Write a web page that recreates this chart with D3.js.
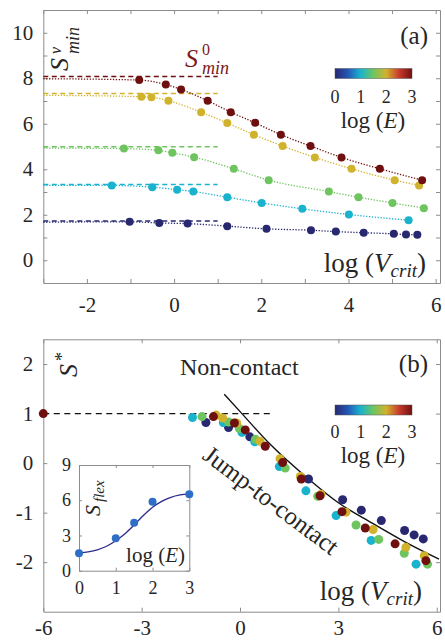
<!DOCTYPE html>
<meta charset="utf-8">
<script src="https://d3js.org/d3.v7.min.js"></script>
<style>
  body { margin: 0; background: #fff; }
  svg { display: block; }
  text { font-family: "Liberation Serif", "DejaVu Serif", serif; fill: #262626; }
</style>
<div id="my_dataviz"></div>
<script>
  // ---- panel (a) data : one array per log(E) series ----
  var seriesLogE = [0, 1, 1.5, 2, 3];
  var s0min = [1.73, 3.33, 4.99, 7.33, 8.08];      // dashed S0_min levels
  var fitStart = [1.67, 3.29, 4.93, 7.25, 7.98];   // dotted fit value at left edge

  var vNavy = [-1.02, -0.34, 0.31, 1.22, 2.12, 3.14, 3.71, 4.35, 5.04, 5.32, 5.58];
  var sNavy = [1.69, 1.64, 1.61, 1.50, 1.38, 1.32, 1.26, 1.21, 1.16, 1.13, 1.12];
  var vCyan = [-1.43, -0.50, 0.07, 0.44, 1.22, 2.01, 2.94, 4.01, 5.38];
  var sCyan = [3.29, 3.21, 3.10, 3.02, 2.77, 2.52, 2.26, 2.01, 1.76];
  var vGreen = [-1.15, -0.36, -0.04, 0.46, 1.37, 2.17, 3.55, 4.23, 5.01, 5.73];
  var sGreen = [4.91, 4.83, 4.72, 4.53, 4.02, 3.52, 3.02, 2.77, 2.52, 2.29];
  var vGold = [-0.75, -0.52, -0.13, 0.62, 1.22, 1.83, 2.49, 3.23, 4.07, 5.06, 5.62];
  var sGold = [7.19, 7.17, 7.01, 6.51, 6.03, 5.52, 5.02, 4.52, 4.02, 3.52, 3.29];
  var vRed = [-0.80, -0.19, 0.16, 0.77, 1.30, 1.86, 2.45, 3.13, 3.84, 4.72, 5.69];
  var sRed = [7.92, 7.72, 7.51, 7.01, 6.51, 6.04, 5.52, 5.02, 4.52, 4.02, 3.52];
  var vAll = [vNavy, vCyan, vGreen, vGold, vRed];
  var sAll = [sNavy, sCyan, sGreen, sGold, sRed];

  // ---- panel (b) data ----
  var bV = [-1.45, -1.16, -1.04, -0.81, -0.73, -0.53, -0.51, -0.35, -0.35, -0.17, -0.10, -0.02, 0.06, 0.16, 0.30,
    0.45, 0.47, 0.61, 0.77, 1.22, 1.30, 1.20, 1.38, 1.84, 1.87, 2.09, 2.01, 2.37, 2.47, 2.44, 3.13, 2.93, 3.11,
    3.23, 3.70, 3.54, 3.82, 4.06, 4.00, 4.23, 4.31, 4.73, 5.06, 5.01, 5.02, 5.31, 5.59, 5.62, 5.67, 5.37, 5.72, -6];
  var bS = [0.92, 0.94, 0.82, 0.94, 0.97, 0.91, 0.82, 0.83, 0.72, 0.81, 0.81, 0.70, 0.62, 0.67, 0.53,
    0.43, 0.48, 0.44, 0.34, 0.09, 0.01, -0.07, -0.10, -0.27, -0.32, -0.32, -0.56, -0.67, -0.63, -0.66, -0.74, -1.06, -0.98,
    -0.99, -0.95, -1.25, -1.31, -1.34, -1.56, -1.54, -1.16, -1.63, -1.70, -1.82, -1.36, -1.45, -1.53, -1.87, -1.97, -2.04, -2.04, 1];
  var bE = [1, 1.5, 0, 3, 2, 2, 1, 1.5, 0, 3, 2, 1.5, 1, 3, 0,
    1, 1.5, 2, 3, 2, 3, 1, 1.5, 2, 3, 0, 1, 1.5, 2, 3, 0, 1, 3,
    2, 0, 1.5, 3, 2, 1, 1.5, 0, 3, 2, 1.5, 0, 0, 0, 2, 3, 1, 1.5, 3];

  // jump-to-contact boundary
  var curveV = [-0.48, 0.03, 0.89, 2.09, 3.0, 4.0, 5.0, 6.07];
  var curveS = [1.39, 1.02, 0.40, -0.32, -0.80, -1.20, -1.58, -1.94];

  // inset
  var insetE = [0, 1, 1.5, 2, 3];
  var insetS = [1.48, 2.76, 4.09, 5.88, 6.51];
  var insetFitE = [0, 0.25, 0.5, 0.75, 1, 1.25, 1.5, 1.75, 2, 2.25, 2.5, 2.75, 3];
  var insetFitS = [1.5, 1.6, 1.78, 2.08, 2.55, 3.15, 3.9, 4.7, 5.4, 5.9, 6.25, 6.45, 6.55];

  var cbTicks = [0, 1, 2, 3];

  var svg = d3.select("#my_dataviz").append("svg")
    .attr("width", 445).attr("height", 641);

  // jet-like colour map
  var color = d3.scaleLinear()
    .domain([0, 0.5, 1, 1.5, 2, 2.5, 3])
    .range(["#27286f", "#2456b6", "#1ab3cd", "#6ec55f", "#d1b22c", "#c73a2d", "#6f1010"]);

  var defs = svg.append("defs");
  var grad = defs.append("linearGradient").attr("id", "jet");
  d3.range(0, 3.01, 0.25).forEach(function(v) {
    grad.append("stop").attr("offset", (v / 3 * 100) + "%").attr("stop-color", color(v));
  });

  var axisGray = "#8c8c8c";
  var plain = function(d) { return String(d); };
  var evens = function(d) { return d % 2 === 0 ? String(d) : ""; };

  function styleAxis(g, fs) {
    g.attr("font-family", "Liberation Serif, serif").attr("font-size", fs);
    g.select(".domain").attr("stroke", axisGray);
    g.selectAll(".tick line").attr("stroke", axisGray);
    g.selectAll(".tick text").attr("fill", "#262626");
  }

  function frame(x, y, xt, yt, xfmt, yfmt, fs, padB, padL, tl) {
    var y0 = y.range()[0], y1 = y.range()[1], x0 = x.range()[0], x1 = x.range()[1];
    svg.append("g").attr("transform", "translate(0," + y0 + ")")
      .call(d3.axisBottom(x).tickValues(xt).tickFormat(xfmt).tickSize(-tl).tickSizeOuter(0).tickPadding(padB))
      .call(styleAxis, fs);
    svg.append("g").attr("transform", "translate(0," + y1 + ")")
      .call(d3.axisTop(x).tickValues(xt).tickFormat("").tickSize(-tl).tickSizeOuter(0))
      .call(styleAxis, fs);
    svg.append("g").attr("transform", "translate(" + x0 + ",0)")
      .call(d3.axisLeft(y).tickValues(yt).tickFormat(yfmt).tickSize(-tl).tickSizeOuter(0).tickPadding(padL))
      .call(styleAxis, fs);
    svg.append("g").attr("transform", "translate(" + x1 + ",0)")
      .call(d3.axisRight(y).tickValues(yt).tickFormat("").tickSize(-tl).tickSizeOuter(0))
      .call(styleAxis, fs);
  }

  function colorbar(yTop, yLabel, yTitle) {
    var cx = d3.scaleLinear().domain([0, 3]).range([335, 412]);
    svg.append("rect").attr("x", 335).attr("y", yTop).attr("width", 77).attr("height", 10)
      .attr("fill", "url(#jet)").attr("stroke", "#555").attr("stroke-width", 0.5);
    svg.append("g").selectAll("text").data(cbTicks).enter().append("text")
      .attr("x", function(d) { return cx(d); }).attr("y", yLabel)
      .attr("text-anchor", "middle").attr("font-size", 18).text(function(d) { return d; });
    var t = svg.append("text").attr("x", 373).attr("y", yTitle).attr("text-anchor", "middle").attr("font-size", 23);
    t.append("tspan").text("log (");
    t.append("tspan").attr("font-style", "italic").text("E");
    t.append("tspan").text(")");
  }

  function vcritLabel(xEnd, yBase) {
    var t = svg.append("text").attr("x", xEnd).attr("y", yBase).attr("text-anchor", "end").attr("font-size", 27);
    t.append("tspan").text("log (");
    t.append("tspan").attr("font-style", "italic").text("V");
    t.append("tspan").attr("font-style", "italic").attr("font-size", 19).attr("dy", 5).text("crit");
    t.append("tspan").attr("dy", -5).text(")");
  }

  // ================= panel (a) =================
  var xa = d3.scaleLinear().domain([-3, 6.1]).range([43.3, 440]);
  var ya = d3.scaleLinear().domain([-1, 11]).range([283, 10]);
  frame(xa, ya, d3.range(-3, 7), d3.range(0, 11), evens, evens, 21, 14, 10, 4);

  var pa = svg.append("g");
  seriesLogE.forEach(function(e, i) {
    // S0_min reference
    pa.append("line")
      .attr("x1", xa(-3)).attr("x2", xa(1))
      .attr("y1", ya(s0min[i])).attr("y2", ya(s0min[i]))
      .attr("stroke", color(e)).attr("stroke-width", 1.5).attr("stroke-dasharray", "5,3.5");
    var pts = [[-3, fitStart[i]]].concat(vAll[i].map(function(v, j) { return [v, sAll[i][j]]; }));
    pa.append("path")
      .datum(pts)
      .attr("fill", "none").attr("stroke", color(e)).attr("stroke-width", 1.3)
      .attr("stroke-dasharray", "1.3,1.6")
      .attr("d", d3.line().x(function(d) { return xa(d[0]); }).y(function(d) { return ya(d[1]); })
        .curve(d3.curveMonotoneX));
  });
  seriesLogE.forEach(function(e, i) {
    pa.append("g").selectAll("circle").data(vAll[i]).enter().append("circle")
      .attr("cx", function(d) { return xa(d); })
      .attr("cy", function(d, j) { return ya(sAll[i][j]); })
      .attr("r", 4).attr("fill", color(e));
  });

  // labels (a)
  var lab = svg.append("g").attr("transform", "translate(68,71) rotate(-90)");
  lab.append("text").attr("x", 0).attr("y", 0).attr("font-size", 26).attr("font-style", "italic").text("S");
  lab.append("text").attr("x", 17).attr("y", -7).attr("font-size", 16).attr("font-style", "italic").text("v");
  lab.append("text").attr("x", 17).attr("y", 11).attr("font-size", 18).attr("font-style", "italic").text("min");

  svg.append("text").attr("x", 185).attr("y", 67).attr("font-size", 26).attr("font-style", "italic")
    .style("fill", "#7a1a1a").text("S");
  svg.append("text").attr("x", 202).attr("y", 55).attr("font-size", 16)
    .style("fill", "#7a1a1a").text("0");
  svg.append("text").attr("x", 202).attr("y", 74).attr("font-size", 18).attr("font-style", "italic")
    .style("fill", "#7a1a1a").text("min");

  svg.append("text").attr("x", 428).attr("y", 44).attr("text-anchor", "end").attr("font-size", 25).text("(a)");
  vcritLabel(426, 272);
  colorbar(68.5, 102.5, 128);

  // ================= panel (b) =================
  var xb = d3.scaleLinear().domain([-6, 6.1]).range([43.3, 440]);
  var yb = d3.scaleLinear().domain([-3, 2.5]).range([611.7, 339.3]);
  frame(xb, yb, [-6, -3, 0, 3, 6], [-2, -1, 0, 1, 2], plain, plain, 21, 8, 10, 4);

  var pb = svg.append("g");
  pb.append("line")
    .attr("x1", xb(-6)).attr("x2", xb(1))
    .attr("y1", yb(1)).attr("y2", yb(1))
    .attr("stroke", "#111").attr("stroke-width", 1.4).attr("stroke-dasharray", "6,4.5");

  pb.append("path")
    .datum(curveV.map(function(v, i) { return [v, curveS[i]]; }))
    .attr("fill", "none").attr("stroke", "#111").attr("stroke-width", 1.4)
    .attr("d", d3.line().x(function(d) { return xb(d[0]); }).y(function(d) { return yb(d[1]); })
      .curve(d3.curveMonotoneX));

  var order = d3.range(bV.length).sort(function(a, b) { return bE[a] - bE[b]; });
  pb.append("g").selectAll("circle").data(order).enter().append("circle")
    .attr("cx", function(i) { return xb(bV[i]); })
    .attr("cy", function(i) { return yb(bS[i]); })
    .attr("r", 4.5).attr("fill", function(i) { return color(bE[i]); });

  var labB = svg.append("g").attr("transform", "translate(77,377) rotate(-90)");
  labB.append("text").attr("x", 0).attr("y", 0).attr("font-size", 26).attr("font-style", "italic").text("S");
  labB.append("text").attr("x", 16).attr("y", -9).attr("font-size", 18).text("*");

  svg.append("text").attr("x", 180).attr("y", 375).attr("font-size", 24).text("Non-contact");
  svg.append("text").attr("x", 428).attr("y", 372).attr("text-anchor", "end").attr("font-size", 25).text("(b)");
  svg.append("text").attr("transform", "translate(266,507) rotate(37)")
    .attr("text-anchor", "middle").attr("font-size", 25).text("Jump-to-contact");
  vcritLabel(422, 600);
  colorbar(405, 438, 463);

  // ================= inset =================
  var xi = d3.scaleLinear().domain([0, 3]).range([79, 189.3]);
  var yi = d3.scaleLinear().domain([0, 9]).range([570.7, 465]);
  svg.append("rect").attr("x", 79).attr("y", 465).attr("width", 110.3).attr("height", 105.7).attr("fill", "#fff");
  frame(xi, yi, [0, 1, 2, 3], [0, 3, 6, 9], plain, plain, 18, 11, 8, 3);

  svg.append("path")
    .datum(insetFitE.map(function(e, i) { return [e, insetFitS[i]]; }))
    .attr("fill", "none").attr("stroke", "#2c2a8c").attr("stroke-width", 1.3)
    .attr("d", d3.line().x(function(d) { return xi(d[0]); }).y(function(d) { return yi(d[1]); })
      .curve(d3.curveMonotoneX));
  svg.append("g").selectAll("circle").data(insetE).enter().append("circle")
    .attr("cx", function(d) { return xi(d); })
    .attr("cy", function(d, i) { return yi(insetS[i]); })
    .attr("r", 4).attr("fill", "#2f6ec6");

  var labI = svg.append("g").attr("transform", "translate(100,516) rotate(-90)");
  labI.append("text").attr("x", 0).attr("y", 0).attr("font-size", 22).attr("font-style", "italic").text("S");
  labI.append("text").attr("x", 14).attr("y", 4).attr("font-size", 15).attr("font-style", "italic").text("flex");

  var ti = svg.append("text").attr("x", 185).attr("y", 562).attr("text-anchor", "end").attr("font-size", 21);
  ti.append("tspan").text("log (");
  ti.append("tspan").attr("font-style", "italic").text("E");
  ti.append("tspan").text(")");
</script>
